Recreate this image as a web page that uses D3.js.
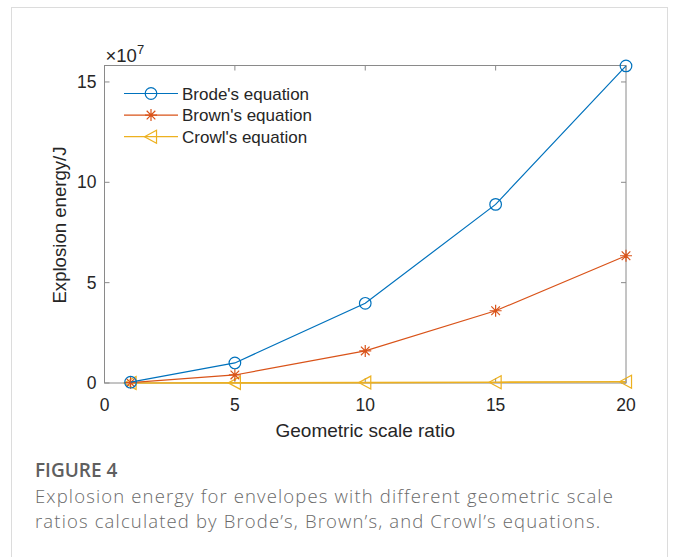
<!DOCTYPE html>
<html>
<head>
<meta charset="utf-8">
<script src="https://cdn.jsdelivr.net/npm/d3@7"></script>
<style>
  body { margin: 0; background: #fff; }
  svg { display: block; }
</style>
</head>
<body>
<svg id="chart" width="680" height="557"></svg>
<script>
// geometric scale ratios
const ratios = [1, 5, 10, 15, 20];
// explosion energy, in units of 1e7 J
const brode = [0.04, 1.0, 3.97, 8.9, 15.8];
const brown = [0.016, 0.4, 1.6, 3.6, 6.34];
const crowl = [0.0003, 0.006, 0.02, 0.04, 0.06];

const xTicks = [0, 5, 10, 15, 20];
const yTicks = [0, 5, 10, 15];

const seriesNames = ["Brode's equation", "Brown's equation", "Crowl's equation"];
const colors = ['#0072BD', '#D95319', '#EDB120'];

const svg = d3.select('#chart');

// card frame
svg.append('rect')
	.attr('x', 11.5)
	.attr('y', 7.5)
	.attr('width', 656)
	.attr('height', 600)
	.attr('fill', 'none')
	.attr('stroke', '#dcdcdc');

const margin = { left: 104.5, right: 626, top: 65.5, bottom: 383 };

const x = d3.scaleLinear().domain([0, 20]).range([margin.left, margin.right]);
const y = d3.scaleLinear().domain([0, 15.82]).range([margin.bottom, margin.top]);

const axisColor = '#8a8a8a';
const textColor = '#262626';
const font = 'Liberation Sans, Arial, sans-serif';

// box
svg.append('rect')
	.attr('x', margin.left)
	.attr('y', margin.top)
	.attr('width', margin.right - margin.left)
	.attr('height', margin.bottom - margin.top)
	.attr('fill', 'none')
	.attr('stroke', axisColor)
	.attr('stroke-width', 1);

// inward ticks
const tickLen = 5;
svg.selectAll('.xtick-b')
	.data(xTicks)
	.join('line')
	.attr('x1', (d) => x(d)).attr('x2', (d) => x(d))
	.attr('y1', margin.bottom).attr('y2', margin.bottom - tickLen)
	.attr('stroke', axisColor);
svg.selectAll('.xtick-t')
	.data(xTicks)
	.join('line')
	.attr('x1', (d) => x(d)).attr('x2', (d) => x(d))
	.attr('y1', margin.top).attr('y2', margin.top + tickLen)
	.attr('stroke', axisColor);
svg.selectAll('.ytick-l')
	.data(yTicks)
	.join('line')
	.attr('x1', margin.left).attr('x2', margin.left + tickLen)
	.attr('y1', (d) => y(d)).attr('y2', (d) => y(d))
	.attr('stroke', axisColor);
svg.selectAll('.ytick-r')
	.data(yTicks)
	.join('line')
	.attr('x1', margin.right).attr('x2', margin.right - tickLen)
	.attr('y1', (d) => y(d)).attr('y2', (d) => y(d))
	.attr('stroke', axisColor);

// tick labels
svg.selectAll('.xlabel')
	.data(xTicks)
	.join('text')
	.attr('x', (d) => x(d))
	.attr('y', margin.bottom + 28)
	.attr('text-anchor', 'middle')
	.attr('font-family', font)
	.attr('font-size', 17.5)
	.attr('fill', textColor)
	.text((d) => d);

svg.selectAll('.ylabel')
	.data(yTicks)
	.join('text')
	.attr('x', margin.left - 8)
	.attr('y', (d) => y(d) + 6)
	.attr('text-anchor', 'end')
	.attr('font-family', font)
	.attr('font-size', 17.5)
	.attr('fill', textColor)
	.text((d) => d);

// exponent
const expo = svg.append('text')
	.attr('x', margin.left + 1)
	.attr('y', margin.top - 4)
	.attr('font-family', font)
	.attr('font-size', 18.5)
	.attr('fill', textColor);
expo.append('tspan').text('\u00d710');
expo.append('tspan').attr('dy', -8).attr('font-size', 13).text('7');

// axis titles
svg.append('text')
	.attr('x', (margin.left + margin.right) / 2)
	.attr('y', 437)
	.attr('text-anchor', 'middle')
	.attr('font-family', font)
	.attr('font-size', 19)
	.attr('fill', textColor)
	.text('Geometric scale ratio');

svg.append('text')
	.attr('transform', `translate(66,225) rotate(-90)`)
	.attr('text-anchor', 'middle')
	.attr('font-family', font)
	.attr('font-size', 18.6)
	.attr('fill', textColor)
	.text('Explosion energy/J');

// markers
function drawMarker(g, kind, color) {
	if (kind === 0) {
		g.append('circle').attr('r', 5.8)
			.attr('fill', 'none').attr('stroke', color).attr('stroke-width', 1.2);
	} else if (kind === 1) {
		const s = 6;
		const d = s * 0.72;
		g.append('path')
			.attr('d', `M${-s},0L${s},0M0,${-s}L0,${s}M${-d},${-d}L${d},${d}M${-d},${d}L${d},${-d}`)
			.attr('stroke', color).attr('stroke-width', 1.2).attr('fill', 'none');
	} else {
		const s = 6.5;
		g.append('path')
			.attr('d', `M${-s},0L${s * 0.85},${-s}L${s * 0.85},${s}Z`)
			.attr('stroke', color).attr('stroke-width', 1.2).attr('fill', 'none');
	}
}

const line = d3.line().x((d) => x(d[0])).y((d) => y(d[1]));
const allSeries = [brode, brown, crowl];

// crowl first so it sits under the others near zero
[2, 1, 0].forEach((i) => {
	const pts = ratios.map((r, j) => [r, allSeries[i][j]]);
	svg.append('path')
		.datum(pts)
		.attr('d', line)
		.attr('fill', 'none')
		.attr('stroke', colors[i])
		.attr('stroke-width', i === 2 ? 1.6 : 1.2);
	svg.selectAll(`.m${i}`)
		.data(pts)
		.join('g')
		.attr('transform', (d) => `translate(${x(d[0])},${y(d[1])})`)
		.each(function () { drawMarker(d3.select(this), i, colors[i]); });
});

// legend
const legend = svg.append('g').attr('transform', 'translate(124,93.5)');
seriesNames.forEach((name, i) => {
	const row = legend.append('g').attr('transform', `translate(0,${i * 21.6})`);
	row.append('line')
		.attr('x1', 0).attr('x2', 54)
		.attr('stroke', colors[i]).attr('stroke-width', 1.2);
	drawMarker(row.append('g').attr('transform', 'translate(27,0)'), i, colors[i]);
	row.append('text')
		.attr('x', 58)
		.attr('y', 6)
		.attr('font-family', font)
		.attr('font-size', 17)
		.attr('fill', textColor)
		.text(name);
});

// caption
const capFont = 'Open Sans, Lato, sans-serif';

// spread a text line so it spans the width it has in the reference
function fitWidth(sel, target) {
	const node = sel.node();
	const len = node.getComputedTextLength();
	sel.attr('letter-spacing', (target - len) / node.textContent.length);
}

svg.append('text')
	.attr('x', 35)
	.attr('y', 477)
	.attr('font-family', capFont)
	.attr('font-size', 19)
	.attr('font-weight', 600)
	.attr('fill', '#5f5f5f')
	.text('FIGURE 4');

const captionLines = [
	'Explosion energy for envelopes with different geometric scale',
	'ratios calculated by Brode\u2019s, Brown\u2019s, and Crowl\u2019s equations.',
];
const capText = svg.selectAll('.cap')
	.data(captionLines)
	.join('text')
	.attr('x', 35)
	.attr('y', (d, i) => 503 + i * 25)
	.attr('font-family', capFont)
	.attr('font-size', 18.5)
	.attr('font-weight', 300)
	.attr('fill', '#6a6a6a')
	.text((d) => d);
const first = d3.select(capText.nodes()[0]);
fitWidth(first, 579);
capText.attr('letter-spacing', first.attr('letter-spacing'));
</script>
</body>
</html>
